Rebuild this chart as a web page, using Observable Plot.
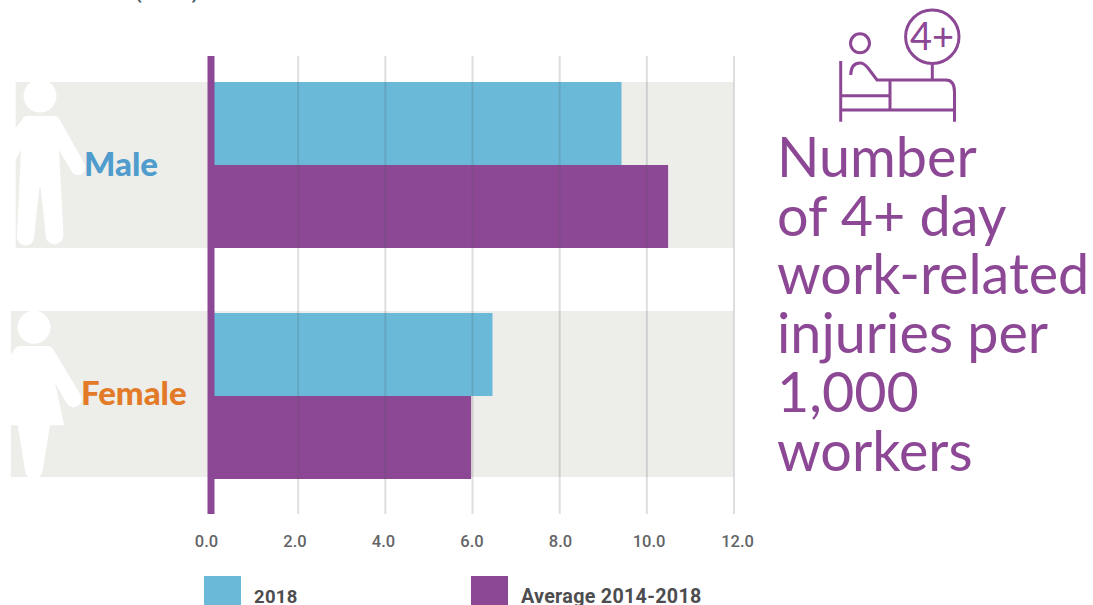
<!DOCTYPE html>
<html>
<head>
<meta charset="utf-8">
<script src="https://cdn.jsdelivr.net/npm/d3@7"></script>
<script src="https://cdn.jsdelivr.net/npm/@observablehq/plot@0.6"></script>
<style>
  html, body { margin: 0; padding: 0; background: #fff; overflow: hidden; }
  #page { position: relative; width: 1093px; height: 605px; overflow: hidden; }
  #page > svg { position: absolute; left: 0; top: 0; }
  .headline { position: absolute; left: 777px; top: 127px; margin: 0;
    font: 400 55.7px/58.7px Lato, sans-serif; color: #8c4795; white-space: nowrap; }
  .key { position: absolute; top: 576px; width: 37px; height: 29px; }
  .key-label { position: absolute; top: 585px; font: 700 18.5px/24px Roboto, sans-serif;
    color: #4d4d4f; white-space: nowrap; letter-spacing: 0.3px; }
  .clipped-note { position: absolute; left: 134px; top: -21px; font: 500 22px/24px Roboto, sans-serif;
    color: #4a5a68; white-space: nowrap; }
</style>
</head>
<body>
<div id="page">
  <div class="clipped-note">(2018)</div>
</div>
<script>
// Work-related injuries lasting four or more days, per 1,000 workers
const genders = ["Male", "Female"];
const periods = ["2018", "Average 2014-2018"];
const rate2018 = [9.43, 6.47];
const rateAverage = [10.5, 5.98];
const xTicks = [0, 2, 4, 6, 8, 10, 12];
const headlineLines = ["Number", "of 4+ day", "work-related", "injuries per", "1,000", "workers"];

const blue = "#6bb9d9";
const purple = "#8c4795";
const bandFill = "#edeeea";
const genderColors = ["#4f9ccd", "#e27a27"];

const rows = genders.flatMap((gender, i) => [
  {gender, period: periods[0], value: rate2018[i]},
  {gender, period: periods[1], value: rateAverage[i]}
]);

// Per-gender placement of the grey band and its label
const bandStyle = [
  {bandStart: -4.47, bandDy: 0, labelDx: -127, labelDy: 0},
  {bandStart: -4.58, bandDy: -2, labelDx: -130, labelDy: -2}
];

const xDomain = [0, 12];
const xRange = [210.5, 733.5];
const page = document.getElementById("page");

const chart = Plot.plot({
  width: 1093,
  height: 605,
  marginLeft: 0,
  marginRight: 0,
  marginTop: 0,
  marginBottom: 0,
  style: {background: "transparent"},
  x: {domain: xDomain, range: xRange, axis: null},
  y: {domain: periods, axis: null, padding: 0},
  fy: {domain: genders, range: [82, 480], padding: 0.28, axis: null},
  color: {domain: periods, range: [blue, purple]},
  marks: [
    // Grey band behind each gender's pair of bars
    ...genders.map((g, i) => Plot.rect([g], {
      fy: d => d, x1: bandStyle[i].bandStart, x2: 12, dy: bandStyle[i].bandDy, fill: bandFill
    })),
    Plot.barX(rows, {x: "value", y: "period", fy: "gender", fill: "period"})
  ]
});
page.appendChild(chart);

// Pictograms and the 4+ day bed icon
const NS = "http://www.w3.org/2000/svg";
const art = document.createElementNS(NS, "svg");
art.setAttribute("width", 1093);
art.setAttribute("height", 605);
art.innerHTML = `
  <g fill="#fff">
    <circle cx="40" cy="96" r="16.5"/>
    <path d="M27 116 L53 116 Q58 116 60 120 L84 163 A7 7 0 0 1 72 172 L59 150 L63.5 236 A9 9 0 0 1 46 238 L41 190 Q40 186 39 190 L34 238 A8.5 8.5 0 0 1 17 236 L21 150 L10 170 L10 135 L22 120 Q24 116 27 116 Z"/>
    <circle cx="34" cy="327.3" r="16.5"/>
    <path d="M20 346 L47 346 Q51 346 53 349 L80 394 A7.5 7.5 0 0 1 67 404 L55 383 L64.3 425.3 L50 425.3 L42.7 470 A8.7 8.7 0 0 1 25 470 L17.7 425.3 L5 425.3 L5 365 L14 350 Q16 346 20 346 Z"/>
  </g>
  <g fill="none" stroke="${purple}" stroke-width="3">
    <circle cx="932.3" cy="36.7" r="26.7"/>
    <path d="M932.3 65 V80"/>
    <circle cx="860" cy="43.3" r="9.5"/>
    <path d="M840.7 61 V121.7"/>
    <path d="M850.7 75 Q851 63 860 63 Q864 63 868 68 L877 80 H946 Q954.5 80 954.5 92 V121.7"/>
    <path d="M840.7 110 H954.5"/>
    <path d="M840.7 95.7 H890"/>
    <path d="M890 80 V110"/>
  </g>
  <text x="932" y="50" text-anchor="middle" fill="${purple}" font-family="Lato, sans-serif" font-size="38">4+</text>
`;
page.appendChild(art);

// Gender labels
const overlay = Plot.plot({
  width: 1093,
  height: 605,
  marginLeft: 0,
  marginRight: 0,
  marginTop: 56,
  marginBottom: 91,
  style: {background: "transparent"},
  x: {domain: xDomain, range: xRange, axis: null},
  fy: {domain: genders, range: [82, 480], padding: 0.28, axis: null},
  marks: [
    ...genders.map((g, i) => Plot.text([g], {
      fy: d => d, x: 0, frameAnchor: "middle", text: d => d, fill: genderColors[i],
      textAnchor: "start", dx: bandStyle[i].labelDx, dy: bandStyle[i].labelDy,
      fontSize: 33, fontWeight: 900, fontFamily: "Lato, sans-serif"
    }))
  ]
});
page.appendChild(overlay);

// Full-height gridlines and the zero line over the bars
const gridLayer = Plot.plot({
  width: 1093,
  height: 605,
  marginLeft: 0,
  marginRight: 0,
  marginTop: 56,
  marginBottom: 91,
  style: {background: "transparent"},
  x: {domain: xDomain, range: xRange, axis: null},
  marks: [
    Plot.ruleX(xTicks.slice(1), {stroke: "#4e5a64", strokeOpacity: 0.2, strokeWidth: 2}),
    Plot.ruleX([0], {stroke: purple, strokeWidth: 7})
  ]
});
page.appendChild(gridLayer);

// Tick labels sit on a slightly wider span than the gridlines
const tickLabels = Plot.plot({
  width: 1093,
  height: 40,
  marginLeft: 0,
  marginRight: 0,
  marginTop: 0,
  marginBottom: 0,
  style: {background: "transparent"},
  x: {domain: xDomain, range: [206, 737], axis: null},
  marks: [
    Plot.text(xTicks, {
      x: d => d, frameAnchor: "middle", text: d => d.toFixed(1), fill: "#636466",
      fontSize: 16.5, fontWeight: 500, fontFamily: "Roboto, sans-serif"
    })
  ]
});
tickLabels.style.top = "521px";
page.appendChild(tickLabels);

// Headline
const headline = document.createElement("p");
headline.className = "headline";
headline.innerHTML = headlineLines.join("<br>");
page.appendChild(headline);

// Legend below the axis
periods.forEach((label, i) => {
  const swatch = document.createElement("div");
  swatch.className = "key";
  swatch.style.left = [204, 471][i] + "px";
  swatch.style.background = [blue, purple][i];
  page.appendChild(swatch);
  const text = document.createElement("div");
  text.className = "key-label";
  text.style.left = [254, 521][i] + "px";
  text.style.fontSize = [18.5, 19.7][i] + "px";
  text.textContent = label;
  page.appendChild(text);
});
</script>
</body>
</html>
